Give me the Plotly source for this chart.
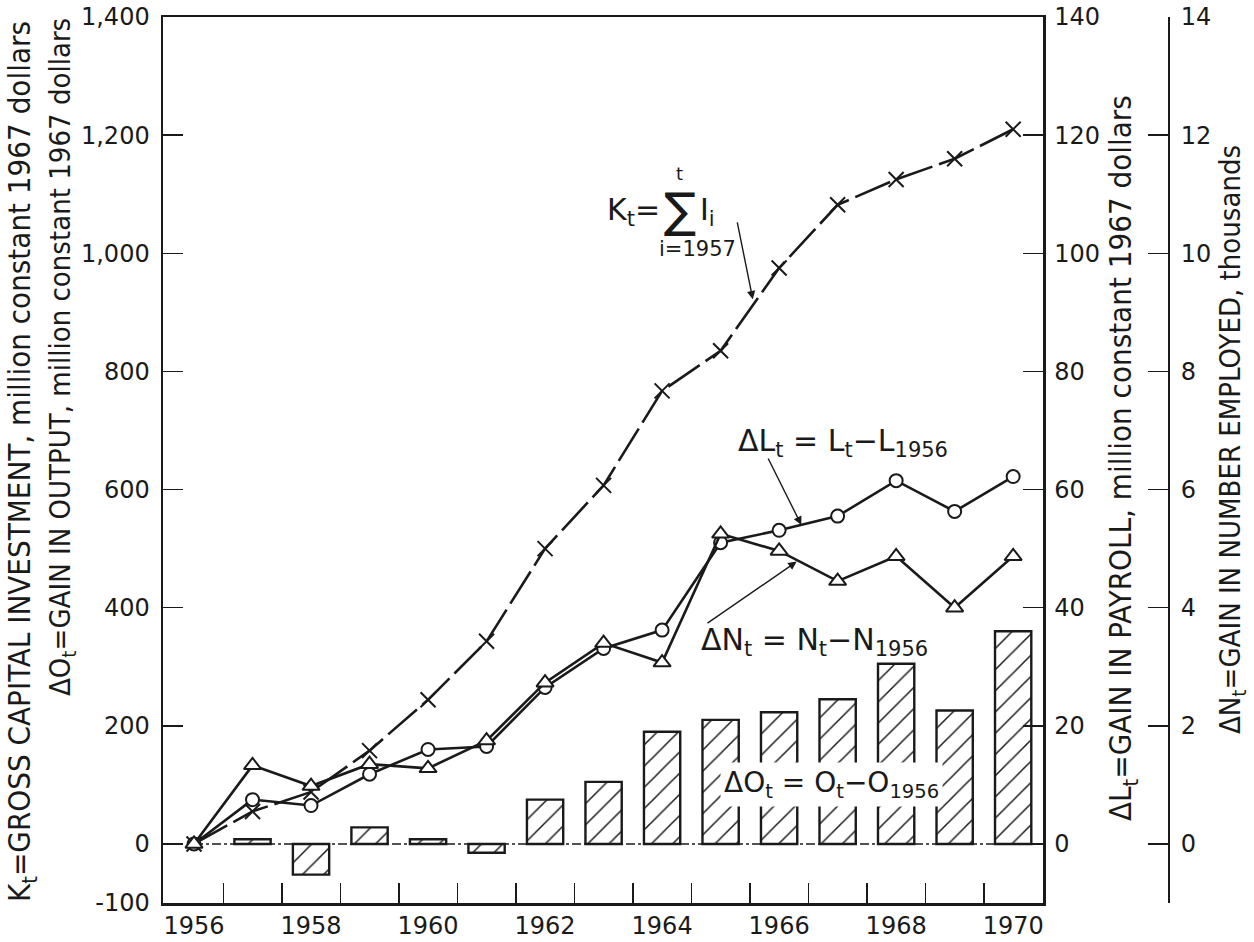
import plotly.graph_objects as go

# ---------------- data ----------------
YEARS = list(range(1956, 1971))
BAR_YEARS = list(range(1957, 1971))

# K_t cumulative gross capital investment, million 1967 $
K_T = [0, 55, 88, 158, 244, 343, 500, 607, 767, 835, 975, 1082, 1125, 1160, 1210]
# Delta L_t gain in payroll, million 1967 $
DELTA_L = [0, 7.5, 6.5, 11.8, 16.0, 16.5, 26.5, 33.1, 36.2, 51.0, 53.1, 55.5, 61.5, 56.3, 62.2]
# Delta N_t gain in number employed, thousands
DELTA_N = [0, 1.33, 0.98, 1.35, 1.28, 1.75, 2.73, 3.40, 3.07, 5.25, 4.96, 4.45, 4.87, 4.00, 4.87]
# Delta O_t gain in output, million 1967 $
DELTA_O = [8, -52, 28, 8, -15, 75, 105, 190, 210, 223, 245, 305, 226, 360]

X_LABEL_YEARS = [1956, 1958, 1960, 1962, 1964, 1966, 1968, 1970]
X_MINOR_TICKS = [y + 0.5 for y in range(1956, 1970)]
LEFT_TICKS = [-100, 0, 200, 400, 600, 800, 1000, 1200, 1400]
LEFT_TICKTEXT = ["-100", "0", "200", "400", "600", "800", "1,000", "1,200", "1,400"]
L_TICKS = [0, 20, 40, 60, 80, 100, 120, 140]
N_TICKS = [-1, 0, 2, 4, 6, 8, 10, 12, 14]
N_TICKTEXT = ["", "0", "2", "4", "6", "8", "10", "12", "14"]

FONT = "DejaVu Sans, Lato, sans-serif"
NARROW = "Liberation Sans Narrow, DejaVu Sans Condensed, Roboto, sans-serif"
INK = "#1a1a1a"

fig = go.Figure()

# Delta O bars
fig.add_trace(go.Bar(
    x=BAR_YEARS, y=DELTA_O, width=0.62,
    marker=dict(color="white", line=dict(color=INK, width=2.4),
                pattern=dict(shape="/", fgcolor=INK, bgcolor="white", size=15,
                             solidity=0.1, fgopacity=1)),
    showlegend=False, yaxis="y", xaxis="x", hoverinfo="skip",
))

# K_t line
fig.add_trace(go.Scatter(
    x=YEARS, y=K_T, mode="lines+markers",
    line=dict(color=INK, width=2.6, dash="38px,7px"),
    marker=dict(symbol="x-thin-open", size=15, line=dict(color=INK, width=2)),
    showlegend=False, yaxis="y", xaxis="x", hoverinfo="skip",
))

# Delta N (triangles)
fig.add_trace(go.Scatter(
    x=YEARS, y=DELTA_N, mode="lines+markers",
    line=dict(color=INK, width=2.6),
    marker=dict(symbol="triangle-up", size=15, color="white", line=dict(color=INK, width=2)),
    showlegend=False, yaxis="y3", xaxis="x", hoverinfo="skip",
))

# Delta L (circles)
fig.add_trace(go.Scatter(
    x=YEARS, y=DELTA_L, mode="lines+markers",
    line=dict(color=INK, width=2.6),
    marker=dict(symbol="circle", size=13, color="white", line=dict(color=INK, width=2)),
    showlegend=False, yaxis="y2", xaxis="x", hoverinfo="skip",
))

# zero reference line (dash-dot)
fig.add_shape(type="line", xref="x", yref="y", x0=YEARS[0], x1=1970.5, y0=0, y1=0,
              line=dict(color=INK, width=1.5, dash="dashdot"), layer="below")

XDOM = 880 / 1006

fig.update_layout(
    width=1254, height=942,
    margin=dict(l=163, r=85, t=17, b=39, autoexpand=False),
    paper_bgcolor="white", plot_bgcolor="white",
    font=dict(family=FONT, size=24, color=INK),
    bargap=0,
    xaxis=dict(
        domain=[0, XDOM], range=[1955.47, 1970.51], automargin=False,
        tickvals=X_LABEL_YEARS, ticks="", showgrid=False, zeroline=False,
        showline=True, linecolor=INK, linewidth=2.5, mirror=True,
        tickfont=dict(family=FONT, size=24),
        minor=dict(tickvals=X_MINOR_TICKS, ticks="inside", ticklen=20, tickwidth=1.5,
                   tickcolor=INK, showgrid=False),
    ),
    yaxis=dict(
        range=[-100, 1400], tickvals=LEFT_TICKS, ticktext=LEFT_TICKTEXT, automargin=False,
        ticks="inside", ticklen=20, tickwidth=1.5, tickcolor=INK,
        showgrid=False, zeroline=False, showline=True, linecolor=INK, linewidth=2.5,
        ticklabelstandoff=6,
    ),
    yaxis2=dict(
        range=[-10, 140], tickvals=L_TICKS, overlaying="y", side="right", anchor="x",
        automargin=False,
        ticks="inside", ticklen=20, tickwidth=1.5, tickcolor=INK,
        showgrid=False, zeroline=False, showline=True, linecolor=INK, linewidth=2.5,
        ticklabelstandoff=4,
    ),
    yaxis3=dict(
        range=[-1, 14], tickvals=N_TICKS, ticktext=N_TICKTEXT, overlaying="y", side="right",
        anchor="free", position=1.0, automargin=False,
        ticks="inside", ticklen=20, tickwidth=1.5, tickcolor=INK,
        showgrid=False, zeroline=False, showline=True, linecolor=INK, linewidth=2,
        ticklabelstandoff=6,
    ),
)

def paper_x(px):
    return (px - 163) / 1006

def paper_y(py):
    return (903 - py) / 886

# axis titles (text, centre x px, centre y px, font size)
titles = [
    ("K<sub>t</sub>=GROSS CAPITAL INVESTMENT, million constant 1967 dollars", 22, 462, 31),
    ("ΔO<sub>t</sub>=GAIN IN OUTPUT, million constant 1967 dollars", 62, 357, 29),
    ("ΔL<sub>t</sub>=GAIN IN PAYROLL, million constant 1967 dollars", 1122, 458, 31),
    ("ΔN<sub>t</sub>=GAIN IN NUMBER EMPLOYED, thousands", 1232, 440, 29),
]
for txt, px, py, fs in titles:
    fig.add_annotation(text=txt, x=paper_x(px), y=paper_y(py), xref="paper", yref="paper",
                       textangle=-90, showarrow=False, xanchor="center", yanchor="middle",
                       font=dict(family=NARROW, size=fs, color=INK))

EQ = dict(family=FONT, size=30, color=INK)

# Delta L label with arrow
fig.add_annotation(text="ΔL<sub>t</sub> = L<sub>t</sub>−L<sub>1956</sub>", x=1967.1, y=680,
                   xref="x", yref="y", showarrow=False, font=EQ)
fig.add_annotation(x=1966.38, y=540, ax=1965.8, ay=655, xref="x", yref="y", axref="x", ayref="y",
                   text="", showarrow=True, arrowhead=2, arrowsize=1.2, arrowwidth=1.4, arrowcolor=INK)

# Delta N label with arrow
fig.add_annotation(text="ΔN<sub>t</sub> = N<sub>t</sub>−N<sub>1956</sub>", x=1966.6, y=343,
                   xref="x", yref="y", showarrow=False, font=EQ)
fig.add_annotation(x=1966.3, y=478, ax=1964.75, ay=372, xref="x", yref="y", axref="x", ayref="y",
                   text="", showarrow=True, arrowhead=2, arrowsize=1.2, arrowwidth=1.4, arrowcolor=INK)

# Delta O label (white background interrupting bars)
fig.add_annotation(text="ΔO<sub>t</sub> = O<sub>t</sub>−O<sub>1956</sub>", x=1966.9, y=100,
                   xref="x", yref="y", showarrow=False, font=dict(family=FONT, size=28, color=INK),
                   bgcolor="white", borderpad=3)

# K label, assembled from pieces
fig.add_annotation(text="K<sub>t</sub>=", x=1964.0, y=1070, xref="x", yref="y", xanchor="right",
                   showarrow=False, font=EQ)
fig.add_annotation(text="∑", x=1964.3, y=1073, xref="x", yref="y", showarrow=False,
                   font=dict(family=FONT, size=48, color=INK))
fig.add_annotation(text="I<sub>i</sub>", x=1964.62, y=1070, xref="x", yref="y", xanchor="left",
                   showarrow=False, font=EQ)
fig.add_annotation(text="t", x=1964.3, y=1135, xref="x", yref="y", showarrow=False,
                   font=dict(family=FONT, size=18, color=INK))
fig.add_annotation(text="i=1957", x=1964.6, y=1008, xref="x", yref="y", showarrow=False,
                   font=dict(family=FONT, size=21, color=INK))
fig.add_annotation(x=1965.55, y=922, ax=1965.28, ay=1055, xref="x", yref="y", axref="x", ayref="y",
                   text="", showarrow=True, arrowhead=2, arrowsize=1.2, arrowwidth=1.4, arrowcolor=INK)

fig.write_html(
    "out.html",
    config={"displayModeBar": False, "staticPlot": True},
    post_script="document.body.style.margin='0px';document.body.style.overflow='hidden';",
)
